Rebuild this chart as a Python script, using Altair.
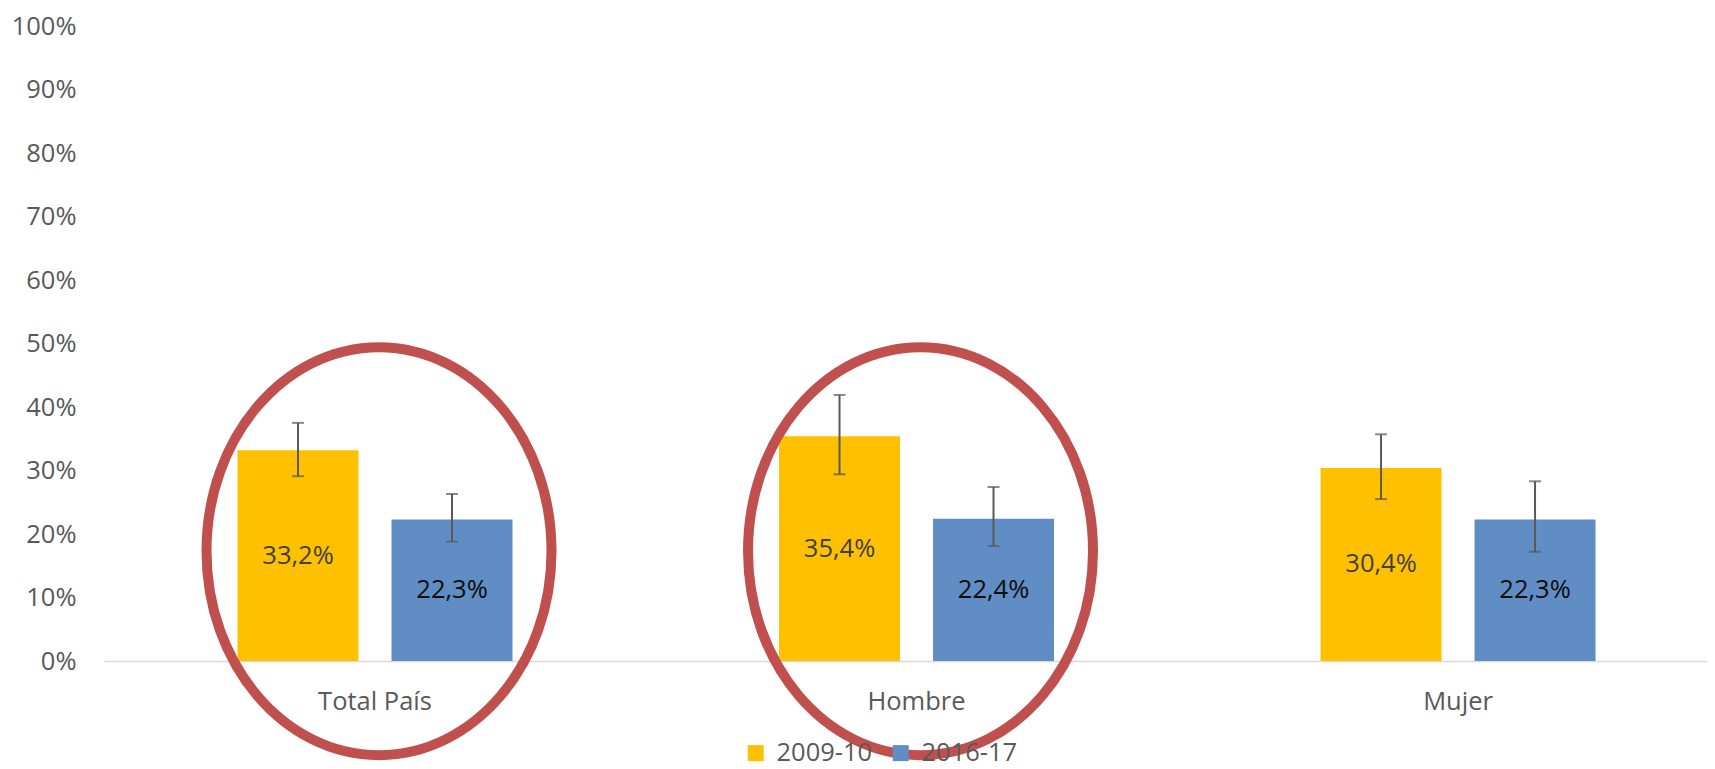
import altair as alt
import pandas as pd

# ---- data ----
categories = ["Total País", "Hombre", "Mujer"]
series = ["2009-10", "2016-17"]
values_2009 = [33.2, 35.4, 30.4]
values_2016 = [22.3, 22.4, 22.3]
err_low_2009 = [29.1, 29.4, 25.5]
err_high_2009 = [37.5, 41.9, 35.7]
err_low_2016 = [18.8, 18.1, 17.2]
err_high_2016 = [26.3, 27.4, 28.3]
y_ticks = [0, 10, 20, 30, 40, 50, 60, 70, 80, 90, 100]
series_colors = ["#FFC000", "#5F8DC4"]

# annotation ellipses (highlighted categories and the value at their centre)
highlighted = ["Total País", "Hombre"]
highlight_center = [17.3, 17.3]

rows = []
for i, c in enumerate(categories):
    rows.append({"category": c, "series": series[0], "value": values_2009[i],
                 "lo": err_low_2009[i], "hi": err_high_2009[i]})
    rows.append({"category": c, "series": series[1], "value": values_2016[i],
                 "lo": err_low_2016[i], "hi": err_high_2016[i]})
df = pd.DataFrame(rows)
ell = pd.DataFrame({"category": highlighted, "center": highlight_center})

FONT = "Open Sans"
GREY = "#595959"
FS = 25.5

x_enc = alt.X("category:N", sort=categories, title=None,
              scale=alt.Scale(paddingInner=0.4922, paddingOuter=0.2262, align=0.545),
              axis=alt.Axis(labelAngle=0, ticks=False, domainColor="#D9D9D9", domainWidth=1.5,
                            labelFontSize=FS, labelColor=GREY, labelFont=FONT,
                            labelPadding=48, labelBaseline="alphabetic"))
xo_enc = alt.XOffset("series:N", sort=series,
                     scale=alt.Scale(paddingInner=0.2143, paddingOuter=0))
yscale = alt.Scale(domain=[0, 100], nice=False, zero=True)

base = alt.Chart(df).encode(x=x_enc, xOffset=xo_enc)

bars = base.mark_bar().encode(
    y=alt.Y("value:Q", scale=yscale, title=None,
            axis=alt.Axis(values=y_ticks, labelExpr="datum.value + '%'")),
    color=alt.Color("series:N", sort=series,
                    scale=alt.Scale(domain=series, range=series_colors),
                    legend=alt.Legend(title=None, orient="none", direction="horizontal",
                                      legendX=639, legendY=714, symbolType="square",
                                      symbolSize=256, symbolStrokeWidth=0,
                                      labelFontSize=FS, labelColor=GREY, labelFont=FONT,
                                      labelOffset=8, columnPadding=15, padding=0)),
)

rules = base.mark_rule(color=GREY, strokeWidth=2).encode(
    y=alt.Y("lo:Q", scale=yscale, title=None), y2="hi:Q")
cap_lo = base.mark_tick(color=GREY, thickness=2, size=12).encode(
    y=alt.Y("lo:Q", scale=yscale, title=None))
cap_hi = base.mark_tick(color=GREY, thickness=2, size=12).encode(
    y=alt.Y("hi:Q", scale=yscale, title=None))

texts = base.transform_calculate(
    mid="datum.value / 2",
    label="replace(format(datum.value, '.1f'), '.', ',') + '%'",
).mark_text(font=FONT, fontSize=FS, baseline="middle", align="center").encode(
    y=alt.Y("mid:Q", scale=yscale, title=None),
    text="label:N",
    color=alt.condition(f"datum.series == '{series[0]}'", alt.value("#404040"), alt.value("#0D0D0D")),
)

a = 0.8456
k = 0.5523
ka = round(k * a, 4)
ell_path = (f"M0,-1 C{ka},-1 {a},-{k} {a},0 C{a},{k} {ka},1 0,1 "
            f"C-{ka},1 -{a},{k} -{a},0 C-{a},-{k} -{ka},-1 0,-1 Z")

ellipses = alt.Chart(ell).mark_point(
    shape=ell_path, size=408 * 408, filled=False, stroke="#C0504D",
    strokeWidth=10, opacity=1, xOffset=4
).encode(
    x=alt.X("category:N", sort=categories),
    y=alt.Y("center:Q", scale=yscale, title=None),
)

chart = alt.layer(bars, rules, cap_lo, cap_hi, texts, ellipses).properties(
    width=1603, height=635,
    padding={"left": 96, "top": 18, "right": 0, "bottom": 108},
    autosize=alt.AutoSizeParams(type="none"),
).configure(font=FONT).configure_view(stroke=None).configure_axisY(
    grid=False, domain=False, ticks=False, labelFontSize=FS, labelColor=GREY,
    labelFont=FONT, labelPadding=28
)

chart.save("out.html", embed_options={"renderer": "svg", "actions": False})
